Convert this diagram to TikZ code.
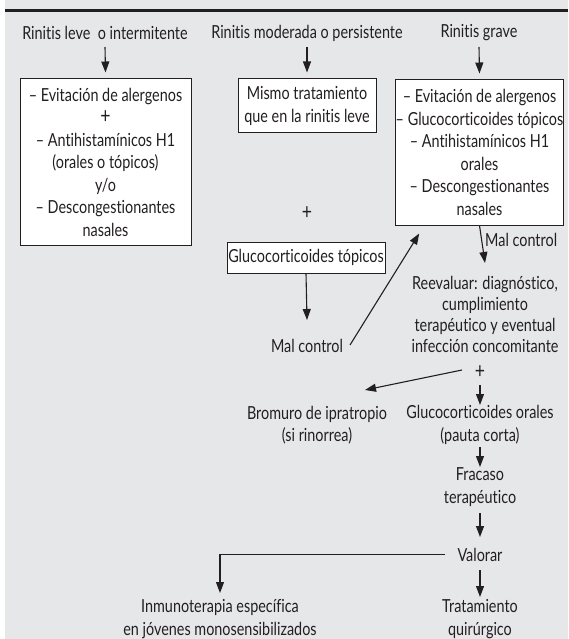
\documentclass[tikz,border=0pt]{standalone}
\usepackage{fontspec}
\setmainfont[FakeStretch=0.8,Ligatures=NoCommon]{Lato}
\usetikzlibrary{arrows.meta}
\definecolor{bg}{HTML}{E6E7E9}
\definecolor{ink}{HTML}{231F20}
\begin{document}
\begin{tikzpicture}[x=1pt,y=-1pt,
  every node/.style={font=\fontsize{18}{22.5}\selectfont, text=ink, inner sep=0pt, align=center},
  boxnode/.style={draw=ink, line width=1pt, fill=white},
  plus/.style={font=\fontsize{22}{22.5}\selectfont},
  arr/.style={draw=ink, line width=1.1pt, -{Triangle[length=11pt,width=8pt]}},
]
\useasboundingbox (0,0) rectangle (568,639);
\fill[white] (0,0) rectangle (568,639);
\fill[bg] (5,0) rectangle (568,639);
\draw[ink, line width=3pt] (5,10.5) -- (568,10.5);

\node (t1) at (105,33) {Rinitis leve\ \ o intermitente};
\node (t2) at (307,33) {Rinitis moderada o persistente};
\node (t3) at (479,33) {Rinitis grave};

\node[boxnode, minimum width=171pt, minimum height=166pt] (b1) at (105.5,162)
  {– Evitación de alergenos\\{\fontsize{22}{22.5}\selectfont +}\\– Antihistamínicos H1\\(orales o tópicos)\\y/o\\– Descongestionantes\\nasales};
\node[boxnode, minimum width=138pt, minimum height=54pt] (b2) at (307,106)
  {Mismo tratamiento\\que en la rinitis leve};
\node[plus] (plus1) at (307,213) {+};
\node[boxnode, minimum width=158pt, minimum height=31pt] (b3) at (306,257.5)
  {Glucocorticoides tópicos};
\node[boxnode, minimum width=167pt, minimum height=145pt] (b4) at (479.5,152.5)
  {– Evitación de alergenos\\– Glucocorticoides tópicos\\– Antihistamínicos H1\\orales\\– Descongestionantes\\nasales};

\node (mc1) at (307,346) {Mal control};
\node[anchor=west] (mc2) at (485,240) {Mal control};
\node[font=\fontsize{18}{21}\selectfont] (reev) at (485,314)
  {Reevaluar: diagnóstico,\\cumplimiento\\terapéutico y eventual\\infección concomitante};
\node[plus] (plus2) at (480,372) {+};
\node (brom) at (317,425) {Bromuro de ipratropio\\(si rinorrea)};
\node (gluc) at (480,425) {Glucocorticoides orales\\(pauta corta)};
\node (frac) at (480,487) {Fracaso\\terapéutico};
\node (val) at (480,554.5) {Valorar};
\node (inmu) at (220,619) {Inmunoterapia específica\\en jóvenes monosensibilizados};
\node (trat) at (480,619) {Tratamiento\\quirúrgico};

\draw[arr] ([yshift=-14pt]t1.center) -- ([yshift=6pt]b1.north);
\draw[arr] ([yshift=-14pt]t2.center) -- ([yshift=6pt]b2.north);
\draw[arr] ([yshift=-14pt]t3.center) -- ([yshift=6pt]b4.north);
\draw[arr] (b3.south) -- ([yshift=26pt]mc1.center);
\draw[arr] ([xshift=43pt,yshift=1pt]mc1.center) -- ([xshift=24pt,yshift=-8pt]b4.south west);
\draw[arr] (b4.south) -- ([yshift=51pt]reev.center);
\draw[arr] ([xshift=-18pt,yshift=2pt]plus2.center) -- ([xshift=48pt,yshift=35pt]brom.center);
\draw[arr] ([yshift=-13pt]plus2.center) -- ([yshift=20pt]gluc.center);
\draw[arr] ([yshift=-22pt]gluc.center) -- ([yshift=20pt]frac.center);
\draw[arr] ([yshift=-26pt]frac.center) -- ([yshift=17.5pt]val.center);
\draw[arr] ([yshift=-15.5pt]val.center) -- ([yshift=22pt]trat.center);
\draw[arr] ([xshift=-35pt]val.center) -| ([yshift=26pt]inmu.center);
\end{tikzpicture}
\end{document}
